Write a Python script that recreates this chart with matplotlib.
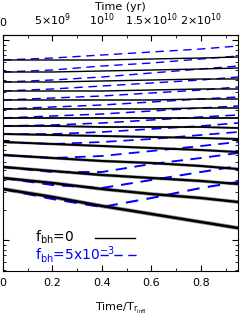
import numpy as np
import matplotlib
matplotlib.use("Agg")
import matplotlib.pyplot as plt

# time in units of T_r,infl
t = [0.0, 0.2, 0.4, 0.6, 0.8, 0.95]

# log10 of Lagrangian radii, f_bh = 0 (black, solid)
black_logr = [
    [-0.20, -0.20, -0.20, -0.19, -0.18, -0.17],
    [-0.32, -0.32, -0.31, -0.30, -0.29, -0.28],
    [-0.42, -0.42, -0.41, -0.40, -0.39, -0.39],
    [-0.51, -0.51, -0.51, -0.50, -0.49, -0.49],
    [-0.60, -0.60, -0.60, -0.60, -0.59, -0.59],
    [-0.69, -0.69, -0.69, -0.69, -0.68, -0.68],
    [-0.78, -0.78, -0.78, -0.78, -0.78, -0.78],
    [-0.86, -0.86, -0.87, -0.87, -0.87, -0.88],
    [-0.94, -0.95, -0.96, -0.97, -0.98, -0.99],
    [-1.02, -1.04, -1.06, -1.08, -1.10, -1.12],
    [-1.15, -1.18, -1.21, -1.23, -1.26, -1.29],
    [-1.27, -1.31, -1.35, -1.38, -1.41, -1.44],
    [-1.38, -1.43, -1.49, -1.54, -1.58, -1.62],
    [-1.49, -1.57, -1.66, -1.74, -1.82, -1.88],
]

# log10 of Lagrangian radii, f_bh = 5e-3 (blue, dashed)
blue_logr = [
    [-0.20, -0.18, -0.15, -0.12, -0.09, -0.06],
    [-0.32, -0.30, -0.26, -0.23, -0.19, -0.16],
    [-0.42, -0.40, -0.37, -0.33, -0.29, -0.26],
    [-0.51, -0.49, -0.46, -0.43, -0.40, -0.37],
    [-0.60, -0.58, -0.56, -0.53, -0.50, -0.47],
    [-0.69, -0.67, -0.65, -0.62, -0.59, -0.57],
    [-0.78, -0.76, -0.74, -0.71, -0.68, -0.66],
    [-0.86, -0.85, -0.83, -0.80, -0.77, -0.75],
    [-0.94, -0.94, -0.92, -0.89, -0.86, -0.83],
    [-1.02, -1.04, -1.02, -0.99, -0.95, -0.92],
    [-1.15, -1.18, -1.16, -1.11, -1.06, -1.02],
    [-1.27, -1.32, -1.32, -1.24, -1.18, -1.13],
    [-1.38, -1.45, -1.48, -1.40, -1.32, -1.26],
    [-1.49, -1.59, -1.67, -1.58, -1.48, -1.42],
]

bottom_ticks = [0.0, 0.2, 0.4, 0.6, 0.8]
bottom_labels = ["0", "0.2", "0.4", "0.6", "0.8"]
top_ticks = [0.0, 5e9, 1e10, 1.5e10, 2e10]
top_labels = ["0", r"5$\times$10$^{9}$", r"10$^{10}$", r"1.5$\times$10$^{10}$", r"2$\times$10$^{10}$"]
yr_per_unit = 2.5e10

plt.rcParams['font.family'] = ['DejaVu Sans']
plt.rcParams['mathtext.default'] = 'regular'

fig = plt.figure(figsize=(2.41, 3.2), dpi=100)
ax = fig.add_axes([3/241, 49/320, 235/241, 236/320])

n = len(black_logr)
for i in range(n):
    frac = i / (n - 1)
    lw = 1.0 + 0.8 * frac ** 2
    yb = 10 ** np.array(black_logr[i])
    yblue = 10 ** np.array(blue_logr[i])
    if frac > 0.4:
        ax.plot(t, yb, color='0.6', lw=lw + 1.2 * frac ** 2, solid_capstyle='butt', zorder=1)
    ax.plot(t, yb, color='black', lw=lw, zorder=3)
    ax.plot(t, yblue, color='blue', lw=1.0 + 0.5 * frac ** 2, linestyle=(0, (6, 4)), zorder=2)

ax.set_yscale('log')
ax.set_xlim(0, 0.95)
ax.set_ylim(10 ** -2.31, 10 ** 0.05)
ax.set_xticks(bottom_ticks)
ax.set_xticklabels(bottom_labels)
ax.set_xticks(np.arange(0.1, 0.95, 0.2), minor=True)
ax.tick_params(axis='both', which='both', direction='in', top=False, right=True,
               labelsize=8)
ax.tick_params(axis='x', which='major', length=4, pad=5)
ax.tick_params(axis='x', which='minor', length=2.5)
ax.tick_params(axis='y', which='major', length=4)
ax.tick_params(axis='y', which='minor', length=2.5)
ax.yaxis.set_major_formatter(matplotlib.ticker.NullFormatter())
ax.yaxis.set_minor_formatter(matplotlib.ticker.NullFormatter())
ax.set_xlabel(r'Time/T$_{r_{infl}}$', fontsize=8, labelpad=9)

sec = ax.secondary_xaxis('top', functions=(lambda x: x * yr_per_unit, lambda y: y / yr_per_unit))
sec.set_xticks(top_ticks)
sec.set_xticklabels(top_labels)
sec.set_xticks(np.arange(2.5e9, 2.4e10, 5e9), minor=True)
sec.tick_params(axis='x', which='major', direction='in', length=4, labelsize=8, pad=5)
sec.tick_params(axis='x', which='minor', direction='in', length=2.5)
sec.set_xlabel('Time (yr)', fontsize=8, labelpad=1)

# legend drawn manually
ax.text(0.136, 0.144, r'f$_{bh}$=0', transform=ax.transAxes, fontsize=10,
        color='black', va='center', ha='left')
ax.plot([0.391, 0.562], [0.14, 0.14], transform=ax.transAxes, color='black', lw=1)
ax.text(0.136, 0.072, r'f$_{bh}$=5x10$^{-3}$', transform=ax.transAxes, fontsize=10,
        color='blue', va='center', ha='left')
ax.plot([0.413, 0.583], [0.068, 0.068], transform=ax.transAxes, color='blue', lw=1,
        linestyle=(0, (6, 4)))

fig.savefig('out.png', dpi=100)
